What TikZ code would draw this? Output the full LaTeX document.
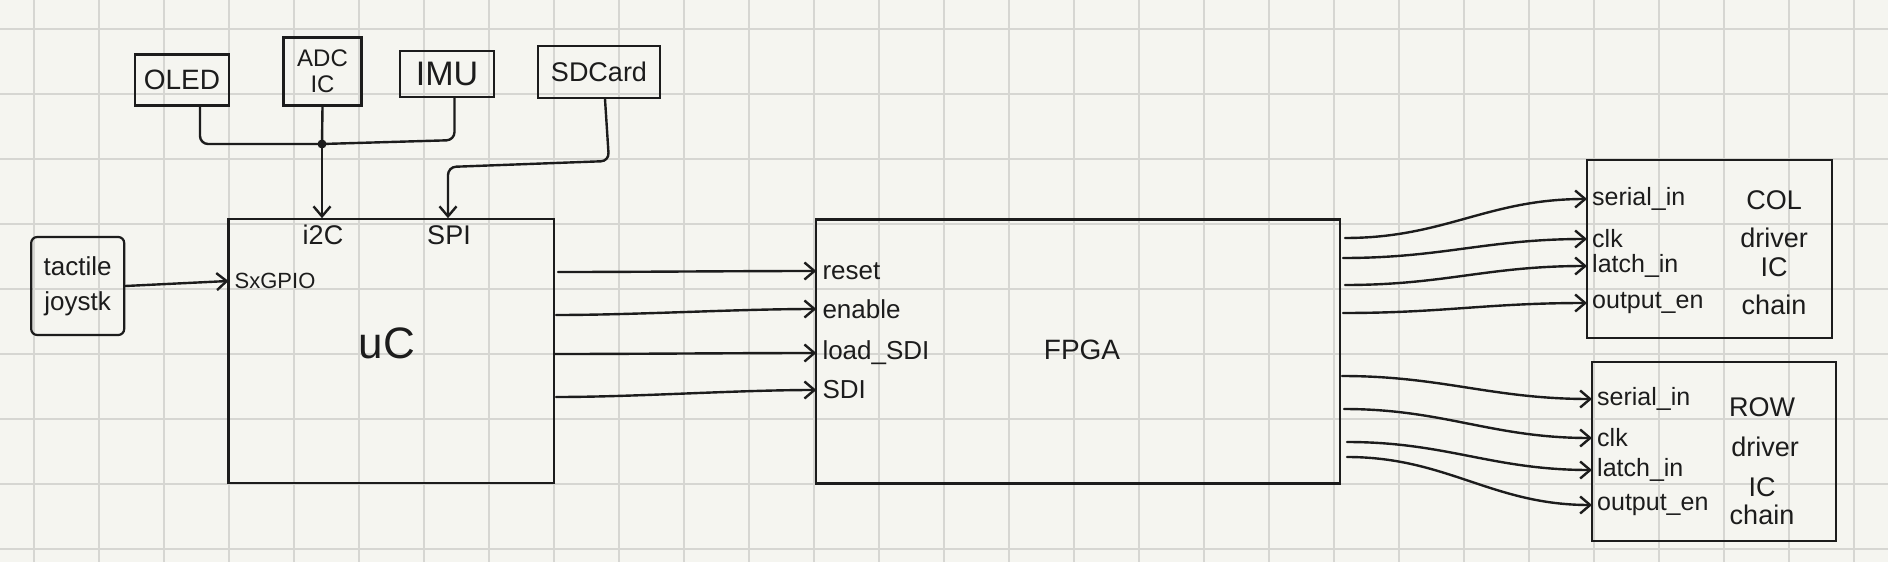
\documentclass[tikz,border=0pt]{standalone}
\usepackage{fontspec}
\setmainfont{Liberation Sans}
\usetikzlibrary{arrows.meta}
\definecolor{paper}{HTML}{F5F5F0}
\definecolor{gridc}{HTML}{D6D6D2}
\definecolor{ink}{HTML}{1C1C1C}
\begin{document}
\begin{tikzpicture}[x=1pt,y=-1pt,
  box/.style={draw=ink, line width=2.2pt, inner sep=0pt, text=ink},
  txt/.style={text=ink, inner sep=0pt},
  lab/.style={text=ink, anchor=west, inner xsep=6pt, inner ysep=0pt, font=\fontsize{26}{30}\selectfont},
  dlab/.style={lab, inner xsep=5pt, font=\fontsize{25}{29}\selectfont},
  rtxt/.style={txt, font=\fontsize{27}{30}\selectfont},
  wire/.style={draw=ink, line width=2.4pt, line cap=round, line join=round},
  arr/.style={wire, -{Straight Barb[length=10pt,width=17pt]}}
]
\fill[paper] (0,0) rectangle (1888,562);
\useasboundingbox (0,0) rectangle (1888,562);
\foreach \k in {0,...,28} \draw[gridc,line width=2.2pt] ({34.3+65*\k},0) -- ({34.3+65*\k},562);
\foreach \k in {0,...,8} \draw[gridc,line width=2.2pt] (0,{29+65*\k}) -- (1888,{29+65*\k});

% top peripherals
\node[box, minimum width=94pt, minimum height=51pt, font=\fontsize{28}{32}\selectfont] (oled) at (182,80) {OLED};
\node[box, minimum width=78pt, minimum height=68pt, align=center, font=\fontsize{24}{26}\selectfont] (adc) at (322.5,71.5) {ADC\\IC};
\node[box, minimum width=94pt, minimum height=46pt, font=\fontsize{34}{36}\selectfont] (imu) at (447,74) {IMU};
\node[box, minimum width=122pt, minimum height=52pt, font=\fontsize{27}{30}\selectfont] (sd) at (599,72) {SDCard};
\node[box, rounded corners=6pt, minimum width=93pt, minimum height=98pt, align=center, font=\fontsize{26}{35}\selectfont] (joy) at (77.7,286) {tactile\\joystk};

% main blocks
\node[box, minimum width=325.8pt, minimum height=264pt] (uc) at (391.4,351.3) {};
\node[txt, font=\fontsize{44}{48}\selectfont] (ucl) at (387,343) {uC};
\node[box, minimum width=523.7pt, minimum height=264pt] (fpga) at (1078.2,351.4) {};
\node[txt, font=\fontsize{28}{32}\selectfont] (fpgal) at (1082,350) {FPGA};
\node[box, minimum width=245pt, minimum height=178pt] (col) at (1709.5,249) {};
\node[box, minimum width=244pt, minimum height=179pt] (row) at (1714,451.5) {};

% uC port labels
\node[txt, font=\fontsize{27}{30}\selectfont] (i2c) at (323,235) {i2C};
\node[txt, font=\fontsize{27}{30}\selectfont] (spi) at (449,235) {SPI};
\node[lab, font=\fontsize{22}{26}\selectfont] (gpio) at (228.5,281) {SxGPIO};

% FPGA port labels
\node[lab] (reset) at (816.3,271) {reset};
\node[lab] (enable) at (816.3,309) {enable};
\node[lab] (load) at (816.3,353) {load\_SDI};
\node[lab] (sdi) at (816.3,390) {SDI};

% COL driver
\node[dlab] (cs) at (1587,199) {serial\_in};
\node[dlab] (cc) at (1587,239) {clk};
\node[dlab] (cl) at (1587,266) {latch\_in};
\node[dlab] (co) at (1587,303) {output\_en};
\node[rtxt] (ct1) at (1774,200) {COL};
\node[rtxt] (ct2) at (1774,238) {driver};
\node[rtxt] (ct3) at (1774,267) {IC};
\node[rtxt] (ct4) at (1774,305) {chain};

% ROW driver
\node[dlab] (rs) at (1592,399) {serial\_in};
\node[dlab] (rc) at (1592,438) {clk};
\node[dlab] (rl) at (1592,470) {latch\_in};
\node[dlab] (ro) at (1592,505) {output\_en};
\node[rtxt] (rt1) at (1762,407) {ROW};
\node[rtxt] (rt2) at (1765,447) {driver};
\node[rtxt] (rt3) at (1762,487) {IC};
\node[rtxt] (rt4) at (1762,515) {chain};

% I2C bus
\coordinate (j) at (322,144);
\draw[wire, rounded corners=8pt] ([xshift=18pt]oled.south) |- (j);
\draw[wire] (adc.south) -- (j);
\draw[wire, rounded corners=8pt] ([xshift=7.5pt]imu.south) -- ++(0,42) -- (j);
\fill[ink] (j) circle (4.5);
\draw[arr] (j) -- (j |- uc.north);

% SPI
\coordinate (sd1) at (609,161);
\coordinate (sd2) at (448,167);
\draw[arr, rounded corners=8pt] ([xshift=6pt]sd.south) -- (sd1) -- (sd2) -- (sd2 |- uc.north);

% joystick
\draw[arr] (joy.east) -- (gpio.west);

% uC -> FPGA
\coordinate (u1) at (558,272);
\coordinate (u2) at (556,315);
\coordinate (u3) at (555,354);
\coordinate (u4) at (556,397);
\draw[arr] (u1) .. controls +(80,0) and +(-80,0) .. (reset.west);
\draw[arr] (u2) .. controls +(80,0) and +(-80,0) .. (enable.west);
\draw[arr] (u3) .. controls +(80,0) and +(-80,0) .. (load.west);
\draw[arr] (u4) .. controls +(80,0) and +(-80,0) .. (sdi.west);

% FPGA -> COL
\coordinate (f1) at (1345,238);
\coordinate (f2) at (1343,258);
\coordinate (f3) at (1345,285);
\coordinate (f4) at (1343,313);
\draw[arr] (f1) .. controls +(100,0) and +(-100,0) .. (cs.west);
\draw[arr] (f2) .. controls +(100,0) and +(-100,0) .. (cc.west);
\draw[arr] (f3) .. controls +(100,0) and +(-100,0) .. (cl.west);
\draw[arr] (f4) .. controls +(100,0) and +(-100,0) .. (co.west);

% FPGA -> ROW
\coordinate (g1) at (1342,376);
\coordinate (g2) at (1344,409);
\coordinate (g3) at (1347,442);
\coordinate (g4) at (1347,457);
\draw[arr] (g1) .. controls +(100,0) and +(-100,0) .. (rs.west);
\draw[arr] (g2) .. controls +(100,0) and +(-100,0) .. (rc.west);
\draw[arr] (g3) .. controls +(100,0) and +(-100,0) .. (rl.west);
\draw[arr] (g4) .. controls +(100,0) and +(-100,0) .. (ro.west);
\end{tikzpicture}
\end{document}
